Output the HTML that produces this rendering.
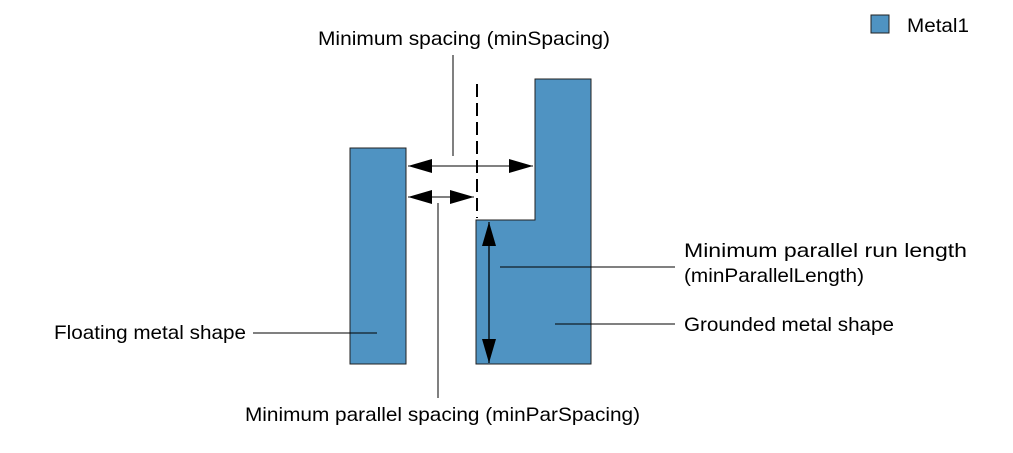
<!DOCTYPE html>
<html><head><meta charset="utf-8"><style>
html,body{margin:0;padding:0;background:#fff;}
svg{display:block;}
text{font-family:"Liberation Sans",Arial,sans-serif;font-size:19.5px;fill:#000;}
</style></head><body>
<svg width="1013" height="453" viewBox="0 0 1013 453" xmlns="http://www.w3.org/2000/svg">
<defs>
<marker id="a" viewBox="0 0 24 14" refX="24" refY="7" markerWidth="24" markerHeight="14" markerUnits="userSpaceOnUse" orient="auto-start-reverse"><path d="M0,0 L24,7 L0,14 z" fill="#000"/></marker>
</defs>
<rect x="871" y="15" width="18" height="18" fill="#4f93c2" stroke="#222" stroke-width="1"/>
<text x="907" y="32" textLength="62" lengthAdjust="spacingAndGlyphs">Metal1</text>
<rect x="350" y="148" width="56" height="216" fill="#4f93c2" stroke="#222" stroke-width="1"/>
<path d="M535,79 L591,79 L591,364 L476,364 L476,220 L535,220 Z" fill="#4f93c2" stroke="#222" stroke-width="1"/>
<line x1="477" y1="84" x2="477" y2="218" stroke="#000" stroke-width="2" stroke-dasharray="13,6"/>
<line x1="408" y1="166" x2="533" y2="166" stroke="#000" stroke-width="1" marker-start="url(#a)" marker-end="url(#a)"/>
<line x1="408" y1="197" x2="474" y2="197" stroke="#000" stroke-width="1" marker-start="url(#a)" marker-end="url(#a)"/>
<line x1="489" y1="222" x2="489" y2="363" stroke="#000" stroke-width="1.3" marker-start="url(#a)" marker-end="url(#a)"/>
<line x1="453" y1="55" x2="453" y2="156" stroke="#000" stroke-width="1"/>
<line x1="438" y1="203" x2="438" y2="398" stroke="#000" stroke-width="1"/>
<line x1="500" y1="267" x2="675" y2="267" stroke="#000" stroke-width="1"/>
<line x1="555" y1="324" x2="675" y2="324" stroke="#000" stroke-width="1"/>
<line x1="253" y1="333" x2="377" y2="333" stroke="#000" stroke-width="1"/>
<text x="318" y="45" textLength="292" lengthAdjust="spacingAndGlyphs">Minimum spacing (minSpacing)</text>
<text x="684" y="257" textLength="283" lengthAdjust="spacingAndGlyphs">Minimum parallel run length</text>
<text x="684" y="282" textLength="180" lengthAdjust="spacingAndGlyphs">(minParallelLength)</text>
<text x="684" y="331" textLength="210" lengthAdjust="spacingAndGlyphs">Grounded metal shape</text>
<text x="54" y="339" textLength="192" lengthAdjust="spacingAndGlyphs">Floating metal shape</text>
<text x="245" y="421" textLength="395" lengthAdjust="spacingAndGlyphs">Minimum parallel spacing (minParSpacing)</text>
</svg>
</body></html>
